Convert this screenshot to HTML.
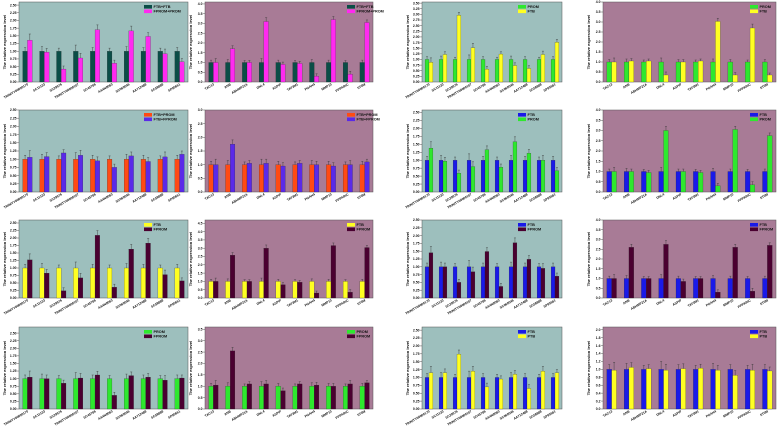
<!DOCTYPE html>
<html><head><meta charset="utf-8"><style>
body{margin:0;background:#fff;width:778px;height:431px;overflow:hidden}
svg{display:block}
text{font-family:"Liberation Sans",sans-serif;font-weight:bold;fill:#111}
</style></head><body>
<svg id="fig" width="778" height="431"></svg>
<script>
const catsL=["TRINITY00000170","SC11133","SC29976","TRINITY00000107","SC45786","AA4N0060","SC060046","AA712488","SC58888","SP95661"];
const catsR=["TAC13","ANB","ABHMP21A","DNL4","ASPIP","TAT3M1","PGAH4","MMP10","PPPARIC","ST0M"];
const ones=[1,1,1,1,1,1,1,1,1,1];
const sA=[1.36,0.97,0.42,0.78,1.70,0.61,1.66,1.48,0.92,0.66];
const sB=[1.0,1.7,1.0,3.1,0.9,0.95,0.3,3.2,0.4,3.05];
const sC=[0.87,1.22,2.96,1.52,0.57,1.24,0.73,0.6,1.22,1.76];
const sD=[1.0,1.05,1.05,0.35,1.0,1.05,3.03,0.35,2.7,0.35];
const sE=[1.06,1.08,1.19,1.12,0.95,0.75,1.1,0.93,1.07,1.15];
const sF=[1.0,1.75,1.05,1.05,0.95,1.05,1.0,0.95,1.0,1.1];
const sG=[1.38,0.97,0.59,0.8,1.33,0.78,1.58,1.22,1.0,0.67];
const sH=[1.0,1.0,0.95,3.0,1.0,0.95,0.3,3.05,0.35,2.75];
const sI=[1.27,0.83,0.24,0.67,2.09,0.36,1.63,1.83,0.78,0.57];
const sJ=[1.0,2.58,1.0,3.0,0.8,0.95,0.3,3.16,0.35,3.04];
const sK=[1.45,1.0,0.5,0.84,1.49,0.37,1.77,1.24,0.95,0.7];
const sL=[1.0,2.6,1.0,2.75,0.85,1.0,0.3,2.6,0.35,2.7];
const sM=[1.05,1.0,0.85,1.02,1.12,0.45,1.1,1.05,0.95,1.02];
const sN=[1.05,2.55,1.1,1.1,0.8,1.1,1.05,1.0,1.1,1.15];
const sO=[1.15,1.15,1.74,1.2,0.7,0.95,1.1,0.65,1.2,1.15];
const sP=[0.98,1.05,1.02,0.98,1.02,1.03,0.98,0.85,0.98,0.96];
const errs=[0.12,0.15,0.1,0.2,0.12,0.1,0.15,0.12,0.1,0.12];

const C={teal:"#0b4d47",mag:"#ff2af0",grn:"#2ee82e",yel:"#ffff22",org:"#ff4a14",pur:"#5a2ae8",mar:"#4a0030",blu:"#1a1ae8"};
const BG1="#9dbfbd",BG2="#a87b96";
const cols=[{x0:19,x1:188,bg:BG1,cats:catsL},{x0:205,x1:373,bg:BG2,cats:catsR},{x0:422,x1:562,bg:BG1,cats:catsL},{x0:603,x1:776,bg:BG2,cats:catsR}];
const rows=[{y0:2,y1:82},{y0:110,y1:192},{y0:220,y1:298},{y0:327,y1:409}];
const panels=[
 [0,0,ones,sA,C.teal,C.mag,"FTB+FTB","FPROM+PROM",2.6,0.25],
 [0,1,ones,sB,C.teal,C.mag,"FTB+FTB","FPROM+PROM",4.1,0.5],
 [0,2,ones,sC,C.grn,C.yel,"PROM","FTB",3.55,0.25],
 [0,3,ones,sD,C.grn,C.yel,"PROM","FTB",4.0,0.5],
 [1,0,ones,sE,C.org,C.pur,"FTB+PROM","FTB+FPROM",2.5,0.25],
 [1,1,ones,sF,C.org,C.pur,"FTB+PROM","FTB+FPROM",3.0,0.5],
 [1,2,ones,sG,C.blu,C.grn,"FTB","PROM",2.58,0.25],
 [1,3,ones,sH,C.blu,C.grn,"FTB","PROM",4.0,0.5],
 [2,0,ones,sI,C.yel,C.mar,"FTB","FPROM",2.6,0.25],
 [2,1,ones,sJ,C.yel,C.mar,"FTB","FPROM",4.7,0.5],
 [2,2,ones,sK,C.blu,C.mar,"FTB","FPROM",2.5,0.25],
 [2,3,ones,sL,C.blu,C.mar,"FTB","FPROM",4.0,0.5],
 [3,0,ones,sM,C.grn,C.mar,"PROM","FPROM",2.7,0.25],
 [3,1,ones,sN,C.grn,C.mar,"PROM","FPROM",3.6,0.5],
 [3,2,ones,sO,C.blu,C.yel,"FTB","PTB",2.6,0.25],
 [3,3,ones,sP,C.blu,C.yel,"FTB","PTB",2.07,0.2]
];
const NS="http://www.w3.org/2000/svg";
const svg=document.getElementById('fig');
function mk(tag,attrs,parent,txt){const e=document.createElementNS(NS,tag);for(const k in attrs)e.setAttribute(k,attrs[k]);if(txt!==undefined)e.textContent=txt;(parent||svg).appendChild(e);return e;}
panels.forEach((p,pi)=>{
 const [r,c,s1,s2,c1,c2,l1,l2,ymax,step]=p;
 const col=cols[c],row=rows[r];
 const g=mk('g',{});
 
 
 const W=col.x1-col.x0,H=row.y1-row.y0;
 const ys=v=>row.y1-v/ymax*H;
 const bg=mk('rect',{x:col.x0,y:row.y0,width:W,height:H,fill:col.bg,stroke:"#555","stroke-width":0.5},g);
 
 
 // y ticks
 for(let v=0;v<=ymax+1e-6;v+=step){
  const y=ys(v);
  mk('line',{x1:col.x0-2,x2:col.x0,y1:y,y2:y,stroke:"#333","stroke-width":0.4},g);
  const t=mk('text',{x:col.x0-2.5,y:y+1.2,"font-size":3.4,"text-anchor":"end"},g,v.toFixed(step<0.5&&step!==0.2?2:1));
  
  
 }
 const yt=mk('text',{x:0,y:0,"font-size":4,"text-anchor":"middle",transform:`translate(${col.x0-13},${(row.y0+row.y1)/2}) rotate(-90)`},g,"The relative expression level");
 
 
 const band=W/10, bw=band*0.28;
 col.cats.forEach((cat,i)=>{
  const cx=col.x0+band*(i+0.5);
  [[s1,c1,-1],[s2,c2,0]].forEach(([s,cl,off],k)=>{
   const x=cx+off*bw, v=s[i];
   const b=mk('rect',{x:x,y:ys(v),width:bw,height:row.y1-ys(v),fill:cl,stroke:"#222","stroke-width":0.2},g);
   
   
   const e=errs[(i+k*3)%10]*(v>1.5?1.3:1);
   mk('line',{x1:x+bw/2,x2:x+bw/2,y1:ys(v),y2:ys(v+e),stroke:"#333","stroke-width":0.4},g);
   mk('line',{x1:x+bw/2-1,x2:x+bw/2+1,y1:ys(v+e),y2:ys(v+e),stroke:"#333","stroke-width":0.4},g);
  });
  const tx=cx+1,ty=row.y1+3;
  const t=mk('text',{x:tx,y:ty,"font-size":3.3,"text-anchor":"end",transform:`rotate(-30 ${tx} ${ty})`},g,cat);
  
  
 });
 // legend
 const lx=col.x1-(c%2?26:44), ly=row.y0+3;
 const lg=mk('g',{},g);
 
 
 [[c1,l1],[c2,l2]].forEach(([cl,lb],k)=>{
  mk('rect',{x:lx,y:ly+k*4.5,width:8,height:3.6,fill:cl},lg);
  mk('text',{x:lx+9.5,y:ly+k*4.5+3.2,"font-size":3.8},lg,lb);
 });
});
</script>
</body></html>
